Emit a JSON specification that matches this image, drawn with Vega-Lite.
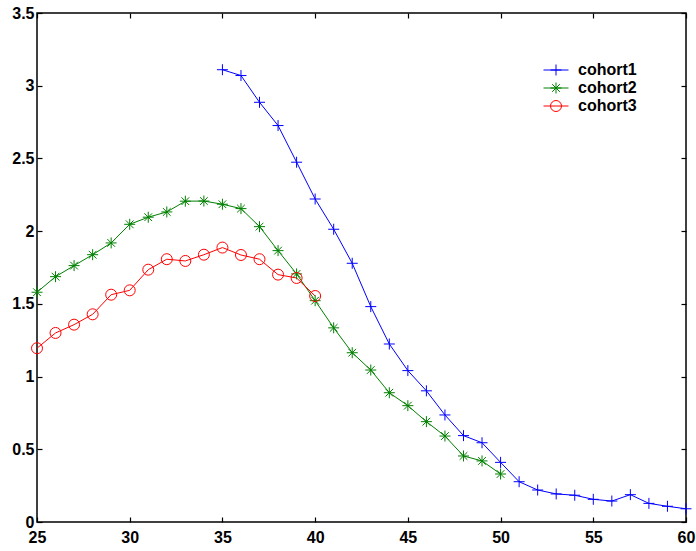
{
  "$schema": "https://vega.github.io/schema/vega-lite/v6.json",
  "width": 649,
  "height": 509,
  "autosize": {"type": "none"},
  "padding": {"left": 37, "top": 13, "right": 10, "bottom": 29},
  "background": "white",
  "config": {
    "view": {"stroke": "#000", "strokeWidth": 1.5, "fill": null},
    "font": "Liberation Sans",
    "axis": {
      "domain": false, "offset": -5, "zindex": 2,
      "ticks": true, "tickColor": "#000000", "tickOpacity": 1, "tickSize": 5, "tickWidth": 1.2,
      "labelFont": "Liberation Sans", "labelFontWeight": "bold", "labelFontSize": 16, "labelColor": "#000",
      "labelFlush": false, "labelOverlap": false, "grid": false, "title": null
    },
    "legend": {
      "title": null, "orient": "none", "legendX": 511, "legendY": 49,
      "symbolSize": 121, "symbolStrokeWidth": 1,
      "labelFont": "Liberation Sans", "labelFontWeight": "bold", "labelFontSize": 16, "labelColor": "#000",
      "labelOffset": 14, "rowPadding": 2
    }
  },
  "data": {"values": [
    {"cohort": "cohort1", "age": 35, "value": 3.11},
    {"cohort": "cohort1", "age": 36, "value": 3.07},
    {"cohort": "cohort1", "age": 37, "value": 2.886},
    {"cohort": "cohort1", "age": 38, "value": 2.726},
    {"cohort": "cohort1", "age": 39, "value": 2.474},
    {"cohort": "cohort1", "age": 40, "value": 2.221},
    {"cohort": "cohort1", "age": 41, "value": 2.013},
    {"cohort": "cohort1", "age": 42, "value": 1.779},
    {"cohort": "cohort1", "age": 43, "value": 1.481},
    {"cohort": "cohort1", "age": 44, "value": 1.224},
    {"cohort": "cohort1", "age": 45, "value": 1.041},
    {"cohort": "cohort1", "age": 46, "value": 0.902},
    {"cohort": "cohort1", "age": 47, "value": 0.736},
    {"cohort": "cohort1", "age": 48, "value": 0.594},
    {"cohort": "cohort1", "age": 49, "value": 0.545},
    {"cohort": "cohort1", "age": 50, "value": 0.41},
    {"cohort": "cohort1", "age": 51, "value": 0.277},
    {"cohort": "cohort1", "age": 52, "value": 0.22},
    {"cohort": "cohort1", "age": 53, "value": 0.193},
    {"cohort": "cohort1", "age": 54, "value": 0.184},
    {"cohort": "cohort1", "age": 55, "value": 0.156},
    {"cohort": "cohort1", "age": 56, "value": 0.144},
    {"cohort": "cohort1", "age": 57, "value": 0.188},
    {"cohort": "cohort1", "age": 58, "value": 0.128},
    {"cohort": "cohort1", "age": 59, "value": 0.108},
    {"cohort": "cohort1", "age": 60, "value": 0.091},
    {"cohort": "cohort2", "age": 25, "value": 1.58},
    {"cohort": "cohort2", "age": 26, "value": 1.687},
    {"cohort": "cohort2", "age": 27, "value": 1.763},
    {"cohort": "cohort2", "age": 28, "value": 1.838},
    {"cohort": "cohort2", "age": 29, "value": 1.919},
    {"cohort": "cohort2", "age": 30, "value": 2.047},
    {"cohort": "cohort2", "age": 31, "value": 2.096},
    {"cohort": "cohort2", "age": 32, "value": 2.132},
    {"cohort": "cohort2", "age": 33, "value": 2.206},
    {"cohort": "cohort2", "age": 34, "value": 2.207},
    {"cohort": "cohort2", "age": 35, "value": 2.185},
    {"cohort": "cohort2", "age": 36, "value": 2.155},
    {"cohort": "cohort2", "age": 37, "value": 2.031},
    {"cohort": "cohort2", "age": 38, "value": 1.866},
    {"cohort": "cohort2", "age": 39, "value": 1.706},
    {"cohort": "cohort2", "age": 40, "value": 1.522},
    {"cohort": "cohort2", "age": 41, "value": 1.335},
    {"cohort": "cohort2", "age": 42, "value": 1.164},
    {"cohort": "cohort2", "age": 43, "value": 1.045},
    {"cohort": "cohort2", "age": 44, "value": 0.889},
    {"cohort": "cohort2", "age": 45, "value": 0.80},
    {"cohort": "cohort2", "age": 46, "value": 0.69},
    {"cohort": "cohort2", "age": 47, "value": 0.591},
    {"cohort": "cohort2", "age": 48, "value": 0.454},
    {"cohort": "cohort2", "age": 49, "value": 0.42},
    {"cohort": "cohort2", "age": 50, "value": 0.33},
    {"cohort": "cohort3", "age": 25, "value": 1.195},
    {"cohort": "cohort3", "age": 26, "value": 1.30},
    {"cohort": "cohort3", "age": 27, "value": 1.357},
    {"cohort": "cohort3", "age": 28, "value": 1.428},
    {"cohort": "cohort3", "age": 29, "value": 1.563},
    {"cohort": "cohort3", "age": 30, "value": 1.593},
    {"cohort": "cohort3", "age": 31, "value": 1.735},
    {"cohort": "cohort3", "age": 32, "value": 1.807},
    {"cohort": "cohort3", "age": 33, "value": 1.795},
    {"cohort": "cohort3", "age": 34, "value": 1.838},
    {"cohort": "cohort3", "age": 35, "value": 1.887},
    {"cohort": "cohort3", "age": 36, "value": 1.836},
    {"cohort": "cohort3", "age": 37, "value": 1.807},
    {"cohort": "cohort3", "age": 38, "value": 1.701},
    {"cohort": "cohort3", "age": 39, "value": 1.678},
    {"cohort": "cohort3", "age": 40, "value": 1.554}
  ]},
  "resolve": {
    "axis": {"x": "independent", "y": "independent"},
    "legend": {"color": "independent", "shape": "independent"}
  },
  "layer": [
    {
      "mark": {"type": "line", "strokeWidth": 1},
      "encoding": {
        "x": {"field": "age", "type": "quantitative", "scale": {"domain": [25, 60], "nice": false, "zero": false},
              "axis": {"orient": "bottom", "values": [25, 30, 35, 40, 45, 50, 55, 60], "labelPadding": 7}},
        "y": {"field": "value", "type": "quantitative", "scale": {"domain": [0, 3.5], "nice": false},
              "axis": {"orient": "left", "values": [0, 0.5, 1, 1.5, 2, 2.5, 3, 3.5], "format": "~g", "labelPadding": 3}},
        "color": {"field": "cohort", "type": "nominal",
                  "scale": {"domain": ["cohort1", "cohort2", "cohort3"], "range": ["#0000ff", "#008000", "#ff0000"]},
                  "legend": {"symbolType": "M-2.27,0H2.27", "labelExpr": "''"}},
        "detail": {"field": "cohort"}
      }
    },
    {
      "mark": {"type": "point", "filled": false, "strokeWidth": 1, "size": 121, "opacity": 1},
      "encoding": {
        "x": {"field": "age", "type": "quantitative",
              "axis": {"orient": "top", "values": [25, 30, 35, 40, 45, 50, 55, 60], "labels": false}},
        "y": {"field": "value", "type": "quantitative",
              "axis": {"orient": "right", "values": [0, 0.5, 1, 1.5, 2, 2.5, 3, 3.5], "labels": false}},
        "color": {"field": "cohort", "type": "nominal"},
        "shape": {"field": "cohort", "type": "nominal",
                  "scale": {"domain": ["cohort1", "cohort2", "cohort3"],
                            "range": ["M-1,0H1M0,-1V1", "M-1,0H1M0,-1V1M-0.7,-0.7L0.7,0.7M-0.7,0.7L0.7,-0.7", "M1,0A1,1,0,1,1,-1,0A1,1,0,1,1,1,0"]}}
      }
    }
  ]
}
